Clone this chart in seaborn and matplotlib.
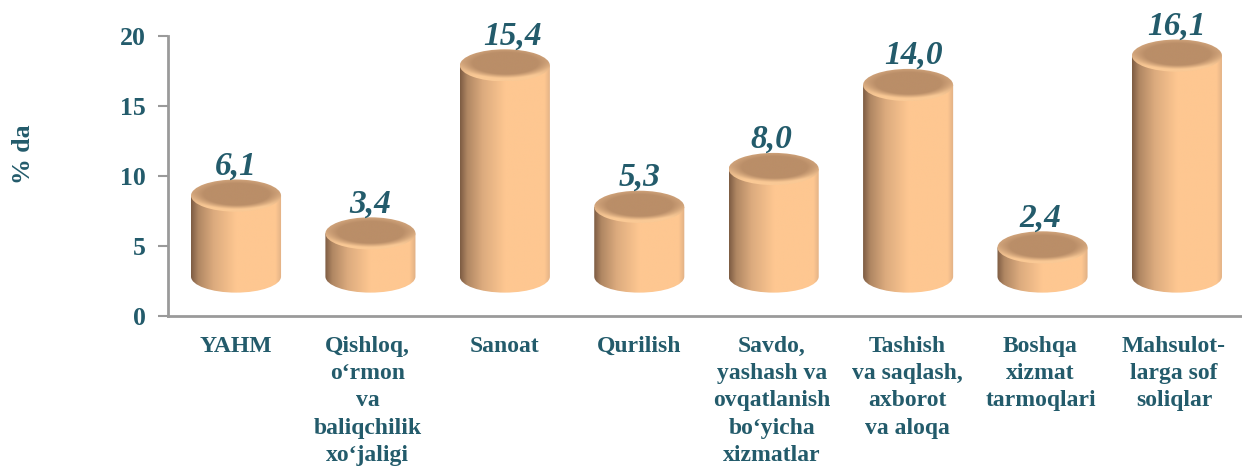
import numpy as np
import pandas as pd
import matplotlib
matplotlib.use("Agg")
import matplotlib.pyplot as plt
from matplotlib.colors import LinearSegmentedColormap, to_rgb
from matplotlib.patches import Ellipse, PathPatch
from matplotlib.path import Path
from matplotlib.transforms import ScaledTranslation
import seaborn as sns

categories = [
    "YAHM",
    "Qishloq,\no\u2018rmon\nva\nbaliqchilik\nxo\u2018jaligi",
    "Sanoat",
    "Qurilish",
    "Savdo,\nyashash va\novqatlanish\nbo\u2018yicha\nxizmatlar",
    "Tashish\nva saqlash,\naxborot\nva aloqa",
    "Boshqa\nxizmat\ntarmoqlari",
    "Mahsulot-\nlarga sof\nsoliqlar",
]
values = [6.1, 3.4, 15.4, 5.3, 8.0, 14.0, 2.4, 16.1]
value_labels = ["6,1", "3,4", "15,4", "5,3", "8,0", "14,0", "2,4", "16,1"]
y_ticks = [0, 5, 10, 15, 20]
label_nudge = [0, 0, 8, 0, -2, 5, -2, 0]  # px, the source labels are not quite centred
tick_nudge = [0, -3, 0, 0, -2, -1, -2, -3]  # px, same for the category labels

TEXT = "#235B6B"
AXIS = "#9A9A9A"
FLOOR = 2.5        # depth of the 3D floor, in data units
CAP_H = 2.3        # ellipse height, in data units
FOOT = 0.32        # wall ends a little above the floor line

side_cmap = LinearSegmentedColormap.from_list(
    "side", [(0, "#7D5C43"), (0.08, "#B08763"), (0.25, "#DCAB7E"),
             (0.5, "#FEC791"), (0.93, "#FEC791"), (1, "#E0B085")])


def cap_image(n=160):
    # soft bevel: dark disc in the middle, rim lighter towards the front
    xs, ys = np.meshgrid(np.linspace(-1, 1, n), np.linspace(-1, 1, n))
    r = np.hypot(xs, (ys - 0.08) / 0.92)
    disc = np.array(to_rgb("#BA8E68"))
    back = np.array(to_rgb("#D2A57C"))
    front = np.array(to_rgb("#FAC995"))
    t = np.clip((r - 0.72) / 0.28, 0, 1)[..., None]
    front_amt = np.clip((-ys + 0.15) / 0.85, 0, 1)[..., None]
    rim = back * (1 - front_amt) + front * front_amt
    return disc * (1 - t) + rim * t


sns.set_theme(style="white")
plt.rcParams["font.family"] = ["Liberation Serif", "DejaVu Serif"]

df = pd.DataFrame({"cat": categories, "val": values})

fig = plt.figure(figsize=(12.42, 4.66), dpi=100)
ax = fig.add_axes([168 / 1242, 1 - 316 / 466, 1074 / 1242, 280 / 466])

sns.barplot(data=df, x="cat", y="val", ax=ax, width=0.67, bottom=FLOOR,
            color="#FEC791", saturation=1, errorbar=None)

XLIM = (-0.506, 7.484)
side_grad = np.linspace(0, 1, 256).reshape(1, -1)
cap_rgb = cap_image()

for bar, label, nudge in zip(list(ax.patches), value_labels, label_nudge):
    x0 = bar.get_x()
    w = bar.get_width()
    base = bar.get_y()
    top = base + bar.get_height()
    foot = base + FOOT
    cx = x0 + w / 2
    bar.set_visible(False)

    # cylinder wall: rectangle with a rounded bottom, filled by a gradient
    k = 0.5523
    ry = CAP_H / 2
    verts = [(x0, top), (x0, foot),
             (x0, foot - k * ry), (cx - k * w / 2, foot - ry), (cx, foot - ry),
             (cx + k * w / 2, foot - ry), (x0 + w, foot - k * ry), (x0 + w, foot),
             (x0 + w, top), (x0, top)]
    codes = [Path.MOVETO, Path.LINETO,
             Path.CURVE4, Path.CURVE4, Path.CURVE4,
             Path.CURVE4, Path.CURVE4, Path.CURVE4,
             Path.LINETO, Path.CLOSEPOLY]
    wall = PathPatch(Path(verts, codes), fc="none", ec="none", transform=ax.transData)
    ax.add_patch(wall)
    im = ax.imshow(side_grad, extent=(x0, x0 + w, foot - ry, top), cmap=side_cmap,
                   aspect="auto", zorder=2, origin="lower", interpolation="bilinear")
    im.set_clip_path(wall)

    # top cap
    cap = Ellipse((cx, top), w, CAP_H, fc="none", ec="none", zorder=3)
    ax.add_patch(cap)
    im2 = ax.imshow(cap_rgb, extent=(x0, x0 + w, top - ry, top + ry),
                    aspect="auto", zorder=3, origin="lower", interpolation="bilinear")
    im2.set_clip_path(cap)

    ax.annotate(label, (cx, top + ry), xytext=(nudge * 0.72, 3.5), textcoords="offset points",
                ha="center", va="baseline", fontsize=24, fontweight="bold",
                fontstyle="italic", color=TEXT, zorder=5)

ax.set_ylim(0, 20)
ax.set_xlim(*XLIM)

ax.set_yticks(y_ticks)
ax.set_yticklabels([str(t) for t in y_ticks], fontsize=18.5, fontweight="bold", color=TEXT)
ax.tick_params(axis="y", length=7, width=1.5, color=AXIS, pad=9, left=True)
ax.tick_params(axis="x", length=0, pad=14.5)
ax.set_xticks(range(len(categories)))
ax.set_xticklabels(categories, fontsize=17, fontweight="bold", color=TEXT,
                   linespacing=1.385, va="top")
for tick_label, dx in zip(ax.get_xticklabels(), tick_nudge):
    tick_label.set_transform(tick_label.get_transform()
                             + ScaledTranslation(dx / 100, 0, fig.dpi_scale_trans))
ax.set_xlabel("")
ax.set_ylabel("")
fig.text(23 / 1242, 1 - 154 / 466, "% da", rotation=90, ha="center", va="center",
         fontsize=18.5, fontweight="bold", color=TEXT)

sns.despine(ax=ax, top=True, right=True)
for side in ("left", "bottom"):
    ax.spines[side].set_color(AXIS)
    ax.spines[side].set_linewidth(2)

fig.savefig("out.png", dpi=100)
